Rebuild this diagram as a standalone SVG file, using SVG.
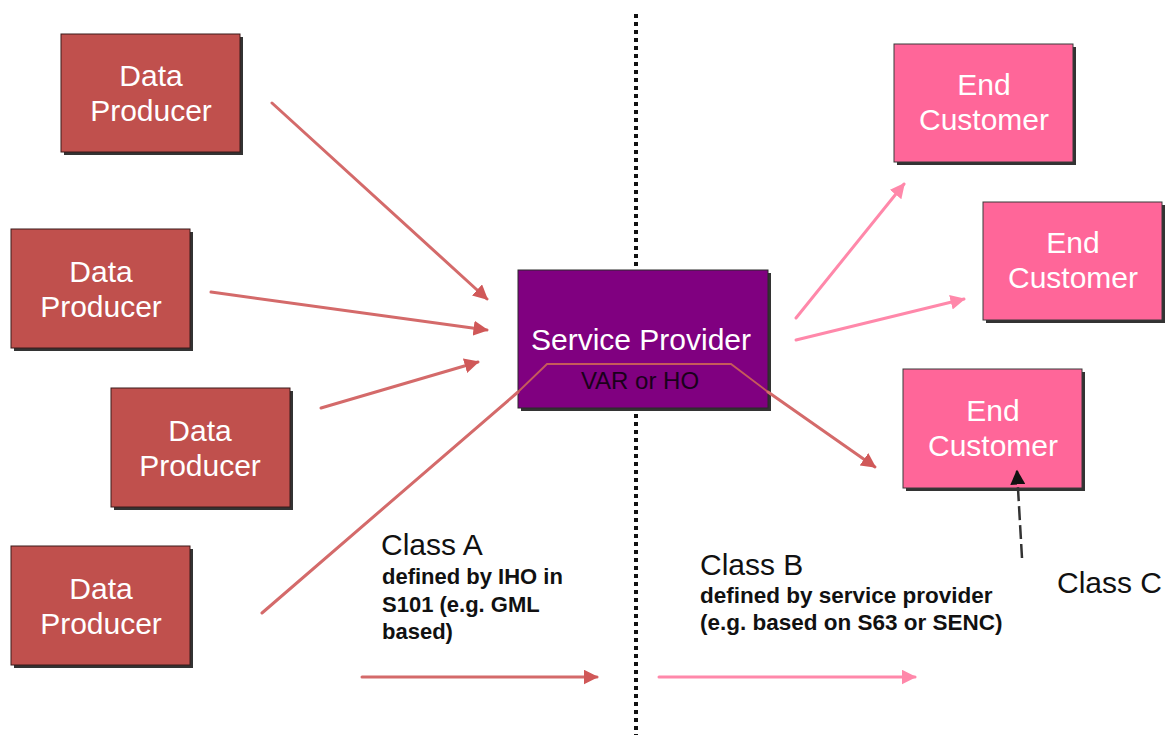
<svg xmlns="http://www.w3.org/2000/svg" width="1169" height="735" viewBox="0 0 1169 735">
<style>
.shadow{fill:#333333}
.dp{fill:#C0504D;stroke:#3a1a1a;stroke-width:1}
.ec{fill:#FF6699;stroke:#3a3a3a;stroke-width:1}
.sp{fill:#800080;stroke:#2a2a2a;stroke-width:1}
.lbl{font-family:"Liberation Sans",Arial,sans-serif;font-size:30px;fill:#ffffff;text-anchor:middle}
.note{font-family:"Liberation Sans",Arial,sans-serif;fill:#111111}
.red{fill:none;stroke:#D46A6A;stroke-width:3;stroke-linecap:round}
.pink{fill:none;stroke:#FF88AA;stroke-width:3;stroke-linecap:round}
</style>
<defs>
<marker id="ahRed" viewBox="0 0 10 10" refX="9" refY="5" markerWidth="5" markerHeight="5" orient="auto" markerUnits="strokeWidth">
<path d="M0,0 L10,5 L0,10 z" fill="#D05858"/>
</marker>
<marker id="ahPink" viewBox="0 0 10 10" refX="9" refY="5" markerWidth="5" markerHeight="5" orient="auto" markerUnits="strokeWidth">
<path d="M0,0 L10,5 L0,10 z" fill="#FF88AA"/>
</marker>
<marker id="ahBlack" viewBox="0 0 10 10" refX="9" refY="5" markerWidth="6" markerHeight="6" orient="auto" markerUnits="strokeWidth">
<path d="M0,0 L10,5 L0,10 z" fill="#111111"/>
</marker>
</defs>

<g id="divider">
<line x1="636" y1="14" x2="636" y2="735" stroke="#111111" stroke-width="4" stroke-dasharray="4 4"/>
</g>

<g id="dp1">
<rect class="shadow" x="64" y="37" width="179" height="118"/>
<rect class="dp" x="61" y="34" width="179" height="118"/>
<text class="lbl" x="151" y="86">Data</text>
<text class="lbl" x="151" y="121">Producer</text>
</g>
<g id="dp2">
<rect class="shadow" x="14" y="232" width="179" height="119"/>
<rect class="dp" x="11" y="229" width="179" height="119"/>
<text class="lbl" x="101" y="282">Data</text>
<text class="lbl" x="101" y="317">Producer</text>
</g>
<g id="dp3">
<rect class="shadow" x="114" y="391" width="179" height="119"/>
<rect class="dp" x="111" y="388" width="179" height="119"/>
<text class="lbl" x="200" y="441">Data</text>
<text class="lbl" x="200" y="476">Producer</text>
</g>
<g id="dp4">
<rect class="shadow" x="14" y="549" width="179" height="119"/>
<rect class="dp" x="11" y="546" width="179" height="119"/>
<text class="lbl" x="101" y="599">Data</text>
<text class="lbl" x="101" y="634">Producer</text>
</g>

<g id="service-provider">
<rect class="shadow" x="521" y="273" width="250" height="138"/>
<rect class="sp" x="518" y="270" width="250" height="138"/>
<text class="lbl" x="641" y="350">Service Provider</text>
<text x="640" y="389" font-family="Liberation Sans, Arial, sans-serif" font-size="24" fill="#1a001a" text-anchor="middle">VAR or HO</text>
</g>

<g id="ec1">
<rect class="shadow" x="897" y="47" width="179" height="118"/>
<rect class="ec" x="894" y="44" width="179" height="118"/>
<text class="lbl" x="984" y="95">End</text>
<text class="lbl" x="984" y="130">Customer</text>
</g>
<g id="ec2">
<rect class="shadow" x="986" y="205" width="179" height="118"/>
<rect class="ec" x="983" y="202" width="179" height="118"/>
<text class="lbl" x="1073" y="253">End</text>
<text class="lbl" x="1073" y="288">Customer</text>
</g>
<g id="ec3">
<rect class="shadow" x="906" y="372" width="179" height="119"/>
<rect class="ec" x="903" y="369" width="179" height="119"/>
<text class="lbl" x="993" y="421">End</text>
<text class="lbl" x="993" y="456">Customer</text>
</g>

<g id="connectors">
<line class="red" x1="272" y1="103" x2="487" y2="299" marker-end="url(#ahRed)"/>
<line class="red" x1="211" y1="292" x2="487" y2="330" marker-end="url(#ahRed)"/>
<line class="red" x1="321" y1="408" x2="478" y2="362" marker-end="url(#ahRed)"/>
<line class="red" x1="262" y1="613" x2="518" y2="392"/>
<polyline points="518,392 547,364 731,364 768,392" fill="none" stroke="#C65A5A" stroke-width="1.8"/>
<line class="red" x1="768" y1="392" x2="875" y2="467" stroke="#CC5C5C" marker-end="url(#ahRed)"/>
<line class="pink" x1="796" y1="318" x2="904" y2="184" marker-end="url(#ahPink)"/>
<line class="pink" x1="796" y1="340" x2="964" y2="299" marker-end="url(#ahPink)"/>
<line class="red" x1="362" y1="677" x2="597" y2="677" marker-end="url(#ahRed)"/>
<line class="pink" x1="659" y1="677" x2="915" y2="677" marker-end="url(#ahPink)"/>
<line x1="1022" y1="558" x2="1017" y2="471" stroke="#333333" stroke-width="2.5" stroke-dasharray="14 5" marker-end="url(#ahBlack)"/>
</g>

<g id="class-a">
<text class="note" x="381" y="555" font-size="30">Class A</text>
<text class="note" x="382" y="584" font-size="22" font-weight="bold">defined by IHO in</text>
<text class="note" x="382" y="612" font-size="22" font-weight="bold">S101 (e.g. GML</text>
<text class="note" x="382" y="639" font-size="22" font-weight="bold">based)</text>
</g>
<g id="class-b">
<text class="note" x="700" y="575" font-size="30">Class B</text>
<text class="note" x="700" y="603" font-size="22.5" font-weight="bold">defined by service provider</text>
<text class="note" x="700" y="630" font-size="22.5" font-weight="bold">(e.g. based on S63 or SENC)</text>
</g>
<g id="class-c">
<text class="note" x="1057" y="593" font-size="30">Class C</text>
</g>
</svg>
